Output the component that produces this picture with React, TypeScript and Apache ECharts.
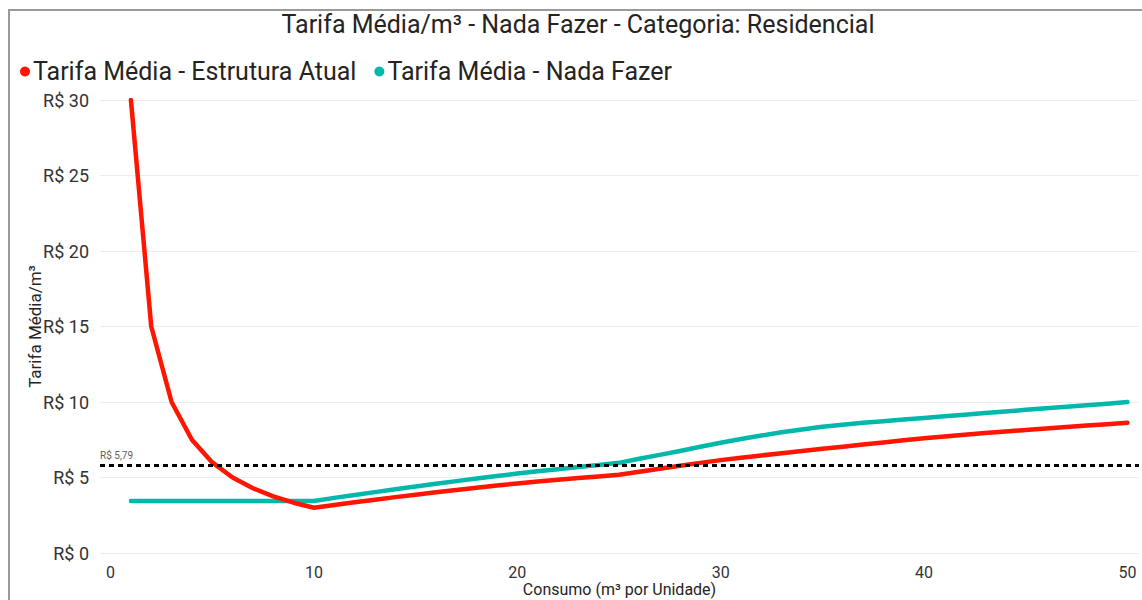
import React, { useEffect, useRef } from "react";
import * as echarts from "echarts";

const consumo = [
  1, 2, 3, 4, 5, 6, 7, 8, 9, 10, 11, 12, 13, 14, 15, 16, 17, 18, 19, 20, 21, 22, 23, 24, 25,
  26, 27, 28, 29, 30, 31, 32, 33, 34, 35, 36, 37, 38, 39, 40, 41, 42, 43, 44, 45, 46, 47, 48, 49, 50,
];

const tarifaAtual = [
  30, 15, 10, 7.5, 6.0, 5.0, 4.29, 3.75, 3.33, 3.0,
  3.18, 3.36, 3.53, 3.7, 3.86, 4.02, 4.17, 4.32, 4.47, 4.61, 4.73, 4.85, 4.96, 5.07, 5.18,
  5.38, 5.58, 5.78, 5.97, 6.15, 6.31, 6.46, 6.61, 6.76, 6.9, 7.04, 7.18, 7.32, 7.46, 7.6,
  7.72, 7.83, 7.94, 8.05, 8.15, 8.25, 8.35, 8.44, 8.53, 8.62,
];

const tarifaNadaFazer = [
  3.45, 3.45, 3.45, 3.45, 3.45, 3.45, 3.45, 3.45, 3.45, 3.45,
  3.65, 3.84, 4.03, 4.22, 4.41, 4.59, 4.76, 4.93, 5.1, 5.26, 5.41, 5.55, 5.69, 5.83, 5.97,
  6.24, 6.5, 6.76, 7.04, 7.3, 7.55, 7.78, 8.0, 8.18, 8.36, 8.5, 8.62, 8.73, 8.84, 8.94,
  9.05, 9.16, 9.27, 9.37, 9.48, 9.58, 9.68, 9.78, 9.89, 10.0,
];

const xTicks = [0, 10, 20, 30, 40, 50];
const referencia = 5.79;
const referenciaLabel = "R$ 5,79";

const seriesNames = ["Tarifa Média - Estrutura Atual", "Tarifa Média - Nada Fazer"];
const seriesColors = ["#FF1500", "#01B8AA"];
const titleText = "Tarifa Média/m³ - Nada Fazer - Categoria: Residencial";
const xName = "Consumo (m³ por Unidade)";
const yName = "Tarifa Média/m³";

const FONT = "Roboto, 'Noto Sans', sans-serif";

export default function App() {
  const ref = useRef<HTMLDivElement>(null);
  useEffect(() => {
    if (!ref.current) return;
    const chart = echarts.init(ref.current, undefined, { renderer: "svg" });
    const mk = (vals: number[]) => consumo.map((x, i) => [x, vals[i]]);
    chart.setOption({
      animation: false,
      backgroundColor: "#ffffff",
      textStyle: { fontFamily: FONT },
      graphic: [
        {
          type: "rect",
          z: 0,
          shape: { x: 9, y: 10, width: 1200, height: 700 },
          style: { fill: "none", stroke: "#9a9a9a", lineWidth: 2 },
        },
        {
          type: "text",
          x: 578,
          y: 24,
          style: {
            text: titleText,
            fontSize: 25,
            fontFamily: FONT,
            fill: "#252423",
            align: "center",
            verticalAlign: "middle",
          },
        },
      ],
      legend: {
        data: seriesNames,
        left: 15,
        top: 54,
        icon: "circle",
        itemWidth: 10,
        itemHeight: 10,
        itemGap: 18,
        textStyle: { fontSize: 25, color: "#252423", fontFamily: FONT, padding: [0, 0, 0, -2] },
      },
      grid: { left: 100, right: 3, top: 100, bottom: 47, containLabel: false, outerBoundsMode: "none" },
      xAxis: {
        type: "value",
        min: -0.52,
        max: 50.57,
        name: xName,
        nameLocation: "middle",
        nameGap: 28,
        nameMoveOverlap: false,
        nameTextStyle: { fontSize: 16, color: "#252423", fontFamily: FONT, lineHeight: 16 },
        axisLine: { show: false },
        axisTick: { show: false },
        splitLine: { show: false },
        axisLabel: {
          customValues: xTicks,
          fontSize: 16,
          lineHeight: 16,
          color: "#333333",
          margin: 11,
          fontFamily: FONT,
        },
      },
      yAxis: {
        type: "value",
        min: 0,
        max: 30,
        interval: 5,
        name: yName,
        nameLocation: "middle",
        nameGap: 57,
        nameMoveOverlap: false,
        nameTextStyle: { fontSize: 17, color: "#252423", fontFamily: FONT },
        axisLine: { show: false },
        axisTick: { show: false },
        splitLine: { lineStyle: { color: "#ececec", width: 1 } },
        axisLabel: {
          formatter: "R$ {value}",
          fontSize: 18,
          color: "#333333",
          margin: 11,
          fontFamily: FONT,
        },
      },
      series: [
        {
          name: seriesNames[0],
          type: "line",
          data: mk(tarifaAtual),
          showSymbol: false,
          symbol: "circle",
          itemStyle: { color: seriesColors[0] },
          lineStyle: { color: seriesColors[0], width: 4.5, cap: "round", join: "round" },
          z: 3,
        },
        {
          name: seriesNames[1],
          type: "line",
          data: mk(tarifaNadaFazer),
          showSymbol: false,
          symbol: "circle",
          itemStyle: { color: seriesColors[1] },
          lineStyle: { color: seriesColors[1], width: 4.5, cap: "round", join: "round" },
          z: 2,
          markLine: {
            silent: true,
            symbol: "none",
            data: [{ yAxis: referencia }],
            lineStyle: { color: "#000000", width: 3, type: [5, 4] },
            label: {
              show: true,
              position: "insideStartTop",
              formatter: referenciaLabel,
              fontSize: 10,
              color: "#605E5C",
              fontFamily: FONT,
              distance: [0, 5],
            },
          },
        },
      ],
    });
    return () => chart.dispose();
  }, []);
  return (
    <div
      ref={ref}
      style={{ position: "fixed", left: 0, top: 0, width: 1142, height: 600, background: "#fff" }}
    />
  );
}
